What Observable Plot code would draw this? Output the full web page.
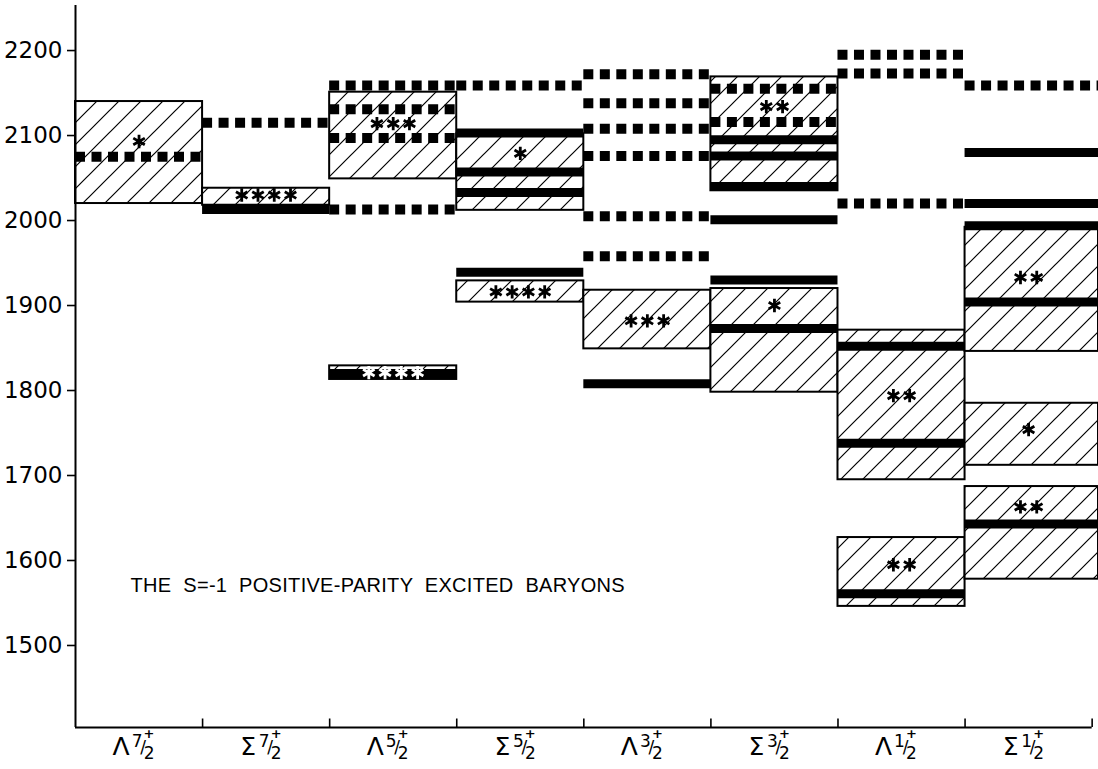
<!DOCTYPE html>
<html><head><meta charset="utf-8">
<script src="https://cdn.jsdelivr.net/npm/d3@7"></script>
<script src="https://cdn.jsdelivr.net/npm/@observablehq/plot@0.6"></script>
<style>
body{margin:0;background:#fff;}
#chart svg{display:block;}
</style>
</head><body><div id="chart"></div>
<script>
// ---- data ----
const catLetter = ["Λ","Σ","Λ","Σ","Λ","Σ","Λ","Σ"];
const catSpin   = ["7","7","5","5","3","3","1","1"];

// experimental mass ranges (hatched boxes), MeV
const boxCol  = [0,    1,    2,    2,    3,    3,    4,    5,    5,    6,    6,    7,    7,    7];
const boxLow  = [2020, 2018, 2049, 1813, 2012, 1904, 1849, 2035, 1798, 1695, 1546, 1846, 1712, 1578];
const boxHigh = [2140, 2038, 2151, 1829, 2102, 1929, 1918, 2169, 1920, 1871, 1627, 1992, 1785, 1687];

// predicted states (solid bars)
const solidCol  = [1,    2,    3,    3,    3,    3,    4,    5,    5,    5,    5,    5,    5,    6,    6,    6,    7,    7,    7,    7,    7];
const solidMass = [2013, 1820, 2103, 2057, 2033, 1939, 1808, 2095, 2076, 2040, 2001, 1930, 1873, 1852, 1738, 1561, 2080, 2020, 1994, 1904, 1643];

// predicted states (dotted bars)
const dotCol  = [0,    1,    2,    2,    2,    2,    3,    4,    4,    4,    4,    4,    4,    5,    5,    6,    6,    6,    7];
const dotMass = [2075, 2115, 2159, 2131, 2097, 2013, 2159, 2172, 2138, 2108, 2076, 2005, 1958, 2155, 2116, 2195, 2173, 2020, 2159];

// star ratings
const starCol   = [0,    1,    2,    2,    3,    3,    4,    5,    5,    6,    6,    7,    7,    7];
const starMass  = [2093, 2030, 2114, 1821, 2079, 1916, 1882, 2134, 1900, 1794, 1595, 1933, 1754, 1663];
const starCount = [1,    4,    3,    4,    1,    4,    3,    2,    1,    2,    2,    2,    1,    2];
const starOnBar = [false,false,false,true, false,false,false,false,false,false,false,false,false,false];

const yTicks = [1500,1600,1700,1800,1900,2000,2100,2200];
const title = "THE S=-1 POSITIVE-PARITY EXCITED BARYONS";
const titleMass = 1571;

// ---- build tables ----
const nCol = catLetter.length;
const xMax = 8.05, yMin = 1403.5, yMax = 2253;
const colEnd = i => (i === nCol - 1 ? xMax : i + 1);
const boxes  = boxCol.map((c, k) => ({x1: c, x2: colEnd(c), lo: boxLow[k], hi: boxHigh[k]}));
const solids = solidCol.map((c, k) => ({x1: c, x2: colEnd(c), y: solidMass[k]}));
const dots   = dotCol.map((c, k) => ({x1: c, x2: colEnd(c), y: dotMass[k]}));
const starStep = 0.128; // spacing between stars, in column units
const stars = starCol.flatMap((c, k) => d3.range(starCount[k]).map(j => ({
  x: c + 0.5 + (j - (starCount[k] - 1) / 2) * starStep,
  y: starMass[k], white: starOnBar[k]
})));
const cats = catLetter.map((l, i) => ({i, l, s: catSpin[i]}));
const bounds = d3.range(1, nCol + 1);

const font = "DejaVu Sans";
const chart = Plot.plot({
  width: 1098, height: 769,
  marginLeft: 75, marginRight: 0, marginTop: 5, marginBottom: 42,
  style: {fontFamily: font, background: "white", color: "black", overflow: "visible"},
  x: {type: "linear", domain: [0, xMax], axis: null},
  y: {domain: [yMin, yMax], axis: null},
  marks: [
    Plot.rect(boxes, {x1: "x1", x2: "x2", y1: "lo", y2: "hi", fill: "url(#hatch)", stroke: "black", strokeWidth: 2}),
    Plot.ruleY(solids, {x1: "x1", x2: "x2", y: "y", stroke: "black", strokeWidth: 9}),
    Plot.ruleY(dots, {x1: "x1", x2: "x2", y: "y", stroke: "black", strokeWidth: 10, strokeDasharray: "10,6.5"}),
    Plot.dot(stars, {x: "x", y: "y", symbol: "asterisk", r: 6.3, stroke: d => d.white ? "white" : "black", strokeWidth: 2.8}),
    // axes
    Plot.ruleX([0], {y1: yMin, y2: yMax, stroke: "black", strokeWidth: 2}),
    Plot.ruleY([yMin], {x1: 0, x2: 8, stroke: "black", strokeWidth: 2}),
    Plot.ruleX(bounds, {x: d => d, y1: yMin, y2: yMin + 10, stroke: "black", strokeWidth: 1.6}),
    Plot.axisY({ticks: yTicks, tickFormat: d => String(d), tickSize: 8, tickPadding: 5, fontSize: 23, fontFamily: font, strokeWidth: 1.6, label: null}),
    // category labels: letter, spin numerator, slash, 2, parity
    Plot.text(cats, {x: d => d.i + 0.5, text: "l", frameAnchor: "bottom", dx: -18, dy: 27, fontSize: 25, fontFamily: font}),
    Plot.text(cats, {x: d => d.i + 0.5, text: "s", frameAnchor: "bottom", dx: -2, dy: 19, fontSize: 17, fontFamily: font}),
    Plot.text(cats, {x: d => d.i + 0.5, text: () => "/", frameAnchor: "bottom", dx: 4, dy: 25, fontSize: 17, fontFamily: font}),
    Plot.text(cats, {x: d => d.i + 0.5, text: () => "2", frameAnchor: "bottom", dx: 10, dy: 31, fontSize: 17, fontFamily: font}),
    Plot.text(cats, {x: d => d.i + 0.5, text: () => "+", frameAnchor: "bottom", dx: 10, dy: 10, fontSize: 13, fontWeight: "bold", fontFamily: font}),
    // title annotation
    Plot.text([title], {frameAnchor: "left", y: () => titleMass, text: d => d, dx: 55, textAnchor: "start", fontSize: 20, fontFamily: "Liberation Sans", ariaLabel: () => "charttitle"})
  ]
});

const svg = d3.select(chart);
svg.insert("defs", ":first-child").html(
  `<pattern id="hatch" patternUnits="userSpaceOnUse" width="22" height="22">
     <rect width="22" height="22" fill="white"/>
     <path d="M-2,2 L2,-2 M0,22 L22,0 M20,24 L24,20" stroke="black" stroke-width="1.2"/>
   </pattern>`);
svg.selectAll('text[aria-label="charttitle"], g[aria-label="charttitle"] text')
  .style("letter-spacing", "0.3px").style("word-spacing", "6px");

document.getElementById("chart").appendChild(chart);
</script>
</body></html>
